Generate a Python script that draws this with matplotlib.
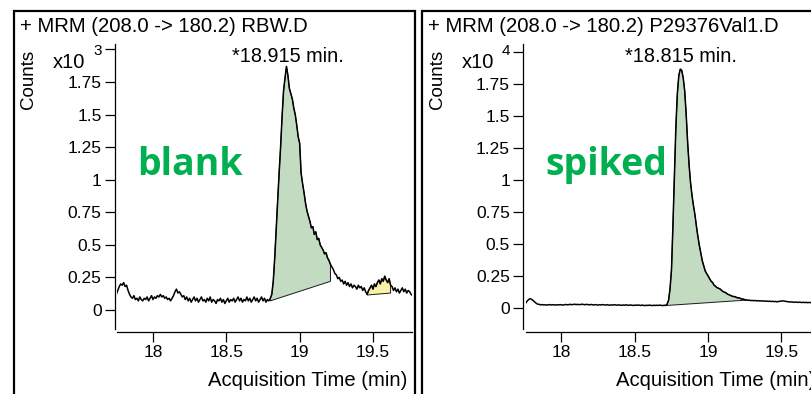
import numpy as np
import matplotlib
matplotlib.use("Agg")
import matplotlib.pyplot as plt
from matplotlib.patches import Rectangle

# ---------------- data ----------------
t_start, t_stop = 17.75, 19.77

blank_counts = [  # x10^3
    0.12, 0.15, 0.18, 0.20, 0.19, 0.21, 0.18, 0.19, 0.15, 0.12,
    0.10, 0.09, 0.11, 0.08, 0.09, 0.07, 0.10, 0.08, 0.07, 0.09,
    0.08, 0.10, 0.07, 0.09, 0.11, 0.08, 0.10, 0.09, 0.11, 0.10,
    0.12, 0.10, 0.11, 0.09, 0.10, 0.08, 0.09, 0.07, 0.09, 0.11,
    0.14, 0.16, 0.13, 0.14, 0.12, 0.10, 0.11, 0.08, 0.10, 0.07,
    0.09, 0.06, 0.08, 0.10, 0.07, 0.09, 0.06, 0.08, 0.10, 0.07,
    0.08, 0.06, 0.09, 0.07, 0.10, 0.06, 0.08, 0.07, 0.05, 0.08,
    0.07, 0.09, 0.06, 0.08, 0.05, 0.07, 0.09, 0.06, 0.08, 0.07,
    0.09, 0.06, 0.08, 0.10, 0.07, 0.09, 0.06, 0.08, 0.07, 0.10,
    0.07, 0.09, 0.06, 0.08, 0.10, 0.07, 0.09, 0.06, 0.08, 0.10,
    0.07, 0.09, 0.06, 0.08, 0.07, 0.09, 0.12, 0.22, 0.40, 0.62,
    0.85, 1.05, 1.25, 1.48, 1.68, 1.78, 1.87, 1.80, 1.70, 1.66,
    1.62, 1.55, 1.50, 1.42, 1.33, 1.28, 1.05, 0.97, 0.90, 0.82,
    0.76, 0.72, 0.68, 0.63, 0.64, 0.58, 0.60, 0.54, 0.55, 0.50,
    0.48, 0.46, 0.43, 0.44, 0.40, 0.38, 0.35, 0.33, 0.31, 0.28,
    0.27, 0.24, 0.25, 0.22, 0.23, 0.20, 0.22, 0.19, 0.21, 0.18,
    0.20, 0.17, 0.19, 0.18, 0.16, 0.19, 0.17, 0.18, 0.15, 0.17,
    0.14, 0.12, 0.15, 0.17, 0.19, 0.16, 0.20, 0.18, 0.21, 0.23,
    0.20, 0.24, 0.22, 0.26, 0.23, 0.21, 0.24, 0.19, 0.18, 0.15,
    0.17, 0.14, 0.16, 0.13, 0.15, 0.17, 0.14, 0.16, 0.13, 0.15,
    0.14, 0.12, 0.11,
]

spiked_counts = [  # x10^4
    0.030, 0.045, 0.060, 0.070, 0.072, 0.065, 0.055, 0.045, 0.035, 0.030,
    0.028, 0.025, 0.027, 0.024, 0.026, 0.023, 0.025, 0.027, 0.024, 0.026,
    0.025, 0.023, 0.026, 0.024, 0.027, 0.025, 0.023, 0.026, 0.028, 0.025,
    0.027, 0.029, 0.026, 0.028, 0.030, 0.027, 0.029, 0.026, 0.028, 0.030,
    0.028, 0.026, 0.029, 0.027, 0.025, 0.028, 0.026, 0.024, 0.027, 0.025,
    0.023, 0.026, 0.024, 0.027, 0.025, 0.023, 0.026, 0.024, 0.022, 0.025,
    0.023, 0.026, 0.024, 0.022, 0.025, 0.023, 0.021, 0.024, 0.022, 0.025,
    0.023, 0.021, 0.024, 0.022, 0.020, 0.023, 0.021, 0.024, 0.022, 0.020,
    0.023, 0.021, 0.019, 0.022, 0.020, 0.023, 0.021, 0.019, 0.022, 0.020,
    0.022, 0.020, 0.023, 0.021, 0.019, 0.022, 0.020, 0.030, 0.060, 0.150,
    0.300, 0.650, 1.050, 1.420, 1.680, 1.820, 1.870, 1.860, 1.800, 1.700,
    1.520, 1.300, 1.120, 0.980, 0.880, 0.800, 0.730, 0.640, 0.560, 0.490,
    0.430, 0.370, 0.330, 0.290, 0.270, 0.250, 0.230, 0.210, 0.200, 0.180,
    0.170, 0.160, 0.155, 0.150, 0.140, 0.130, 0.125, 0.120, 0.110, 0.105,
    0.100, 0.095, 0.090, 0.090, 0.085, 0.080, 0.080, 0.075, 0.070, 0.070,
    0.065, 0.065, 0.060, 0.062, 0.058, 0.060, 0.057, 0.059, 0.056, 0.058,
    0.055, 0.057, 0.054, 0.056, 0.053, 0.055, 0.052, 0.054, 0.051, 0.053,
    0.050, 0.052, 0.049, 0.051, 0.053, 0.055, 0.056, 0.054, 0.052, 0.050,
    0.049, 0.047, 0.048, 0.046, 0.045, 0.047, 0.044, 0.046, 0.045, 0.043,
    0.045, 0.043, 0.044, 0.042, 0.044, 0.043, 0.041, 0.043, 0.042, 0.044,
    0.041, 0.043, 0.042,
]

# integration regions: (t_begin, t_end, baseline_begin, baseline_end)
blank_peaks = [(18.80, 19.21, 0.07, 0.22), (19.46, 19.62, 0.115, 0.13)]
blank_peak_colors = ["#c2dbc1", "#f9f1a6"]
spiked_peaks = [(18.715, 19.26, 0.02, 0.062)]
spiked_peak_colors = ["#c2dbc1"]

y_ticks = [0, 0.25, 0.5, 0.75, 1, 1.25, 1.5, 1.75, 2]
y_tick_labels = ["0", "0.25", "0.5", "0.75", "1", "1.25", "1.5", "1.75", ""]
x_ticks = [18, 18.5, 19, 19.5]
x_tick_labels = ["18", "18.5", "19", "19.5"]

panels = [
    dict(title="+ MRM (208.0 -> 180.2) RBW.D", counts=blank_counts,
         peaks=blank_peaks, colors=blank_peak_colors, exp="3",
         apex="*18.915 min.", tag="blank", off=0, ylim=(-0.169, 2.038),
         ax_x0=117, ax_x1=412, apex_x=287.5, tag_x=137),
    dict(title="+ MRM (208.0 -> 180.2) P29376Val1.D", counts=spiked_counts,
         peaks=spiked_peaks, colors=spiked_peak_colors, exp="4",
         apex="*18.815 min.", tag="spiked", off=408.5, ylim=(-0.1875, 2.0625),
         ax_x0=525.5, ax_x1=820.5, apex_x=680.5, tag_x=545),
]

# ---------------- figure ----------------
W, H = 811, 394
fig = plt.figure(figsize=(W / 100, H / 100), dpi=100)
FONT = "Liberation Sans"
plt.rcParams["font.family"] = [FONT, "DejaVu Sans"]


def fx(px):
    return px / W


def fy(py):
    return 1 - py / H


for p in panels:
    off = p["off"]
    # outer frame
    fig.add_artist(Rectangle((fx(13.5 + off), fy(420)), fx(401.5), (420 - 11) / H,
                             transform=fig.transFigure, fill=False,
                             edgecolor="black", linewidth=1.6, clip_on=False))

    x0, x1 = p["ax_x0"], p["ax_x1"]
    top, bottom = 44.5, 332
    ax = fig.add_axes([fx(x0), fy(bottom), (x1 - x0) / W, (bottom - top) / H])
    counts = np.array(p["counts"])
    t = np.linspace(t_start, t_stop, len(counts))

    for (tb, te, bb, be), c in zip(p["peaks"], p["colors"]):
        m = (t >= tb - 1e-9) & (t <= te + 1e-9)
        tt = np.concatenate([[tb], t[m], [te]])
        yy = np.concatenate([[bb], counts[m], [np.interp(te, t, counts)]])
        base = bb + (be - bb) * (tt - tb) / (te - tb)
        poly_x = np.concatenate([tt, [te], tt[::-1]])
        poly_y = np.concatenate([yy, [be], base[::-1]])
        ax.fill(poly_x, poly_y, facecolor=c, edgecolor="#1a1a1a", linewidth=0.7,
                zorder=1)

    ax.plot(t, counts, color="black", linewidth=1.1, zorder=2)

    ax.set_xlim(t_start + 0.0046, 19.766)
    ax.set_ylim(*p["ylim"])
    ax.set_xticks(x_ticks)
    ax.set_xticklabels(x_tick_labels)
    ax.set_yticks(y_ticks)
    ax.set_yticklabels(y_tick_labels)
    for s in ("top", "right"):
        ax.spines[s].set_visible(False)
    ax.spines["left"].set_position(("outward", 1.6))
    ax.spines["left"].set_bounds(p["ylim"][0] + 0.025, p["ylim"][1])
    for s in ("left", "bottom"):
        ax.spines[s].set_linewidth(0.9)
    ax.tick_params(axis="both", direction="out", length=7, width=0.9,
                   labelsize=12.5, pad=2.5, colors="black")
    ax.patch.set_alpha(0)

    # texts
    fig.text(fx(20 + off), fy(27), p["title"], fontsize=14.6,
             ha="left", va="center")
    fig.text(fx(29 + off), fy(79), "Counts", fontsize=13.5, rotation=90,
             ha="center", va="center")
    fig.text(fx(53 + off), fy(62), "x10", fontsize=14.5, ha="left", va="center")
    fig.text(fx(93 + off), fy(51), p["exp"], fontsize=11, ha="left", va="center")
    fig.text(fx(p["apex_x"]), fy(56), p["apex"], fontsize=14.3, ha="center",
             va="center")
    fig.text(fx(p["tag_x"]), fy(175), p["tag"], fontsize=27, fontweight="bold",
             family=["Open Sans", "DejaVu Sans"], color="#00b050",
             ha="left", va="baseline")
    fig.text(fx(407 + off), fy(381), "Acquisition Time (min)", fontsize=14.6,
             ha="right", va="center")

fig.savefig("out.png", dpi=100)
